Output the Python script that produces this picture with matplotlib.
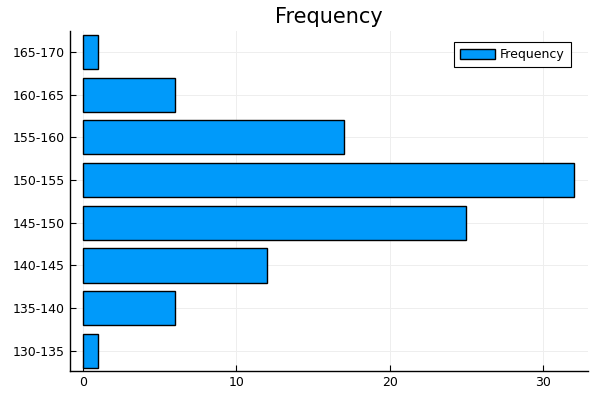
import matplotlib
matplotlib.use("Agg")
import matplotlib.pyplot as plt

categories = ["130-135", "135-140", "140-145", "145-150", "150-155", "155-160", "160-165", "165-170"]
frequency = [1, 6, 12, 25, 32, 17, 6, 1]
xticks = [0, 10, 20, 30]

fig = plt.figure(figsize=(6, 4), dpi=100)
ax = fig.add_axes([70/600, 29/400, 518/600, 340/400])
pos = list(range(1, len(categories) + 1))
ax.barh(pos, frequency, height=0.8, color="#009AFA", edgecolor="black", linewidth=1, label="Frequency", zorder=3)
ax.set_yticks(pos)
ax.set_yticklabels(categories)
ax.set_xticks(xticks)
ax.set_xlim(-0.83, 32.93)
ax.set_ylim(0.53, 8.49)
for s in ["top", "right"]:
    ax.spines[s].set_visible(False)
for s in ["left", "bottom"]:
    ax.spines[s].set_linewidth(1)
ax.tick_params(direction="in", length=4, labelsize=9, colors="black")
ax.grid(True, color="#eeeeee", linewidth=0.7, zorder=0)
ax.set_axisbelow(True)
ax.set_title("Frequency", fontsize=15, pad=6)
leg = ax.legend(loc="upper right", fontsize=9, fancybox=False, framealpha=1, edgecolor="black",
                bbox_to_anchor=(0.967, 0.968), borderaxespad=0, handlelength=2.8, handleheight=0.8,
                borderpad=0.5, handletextpad=0.4)
leg.get_frame().set_linewidth(0.8)
fig.savefig("out.png", dpi=100)
